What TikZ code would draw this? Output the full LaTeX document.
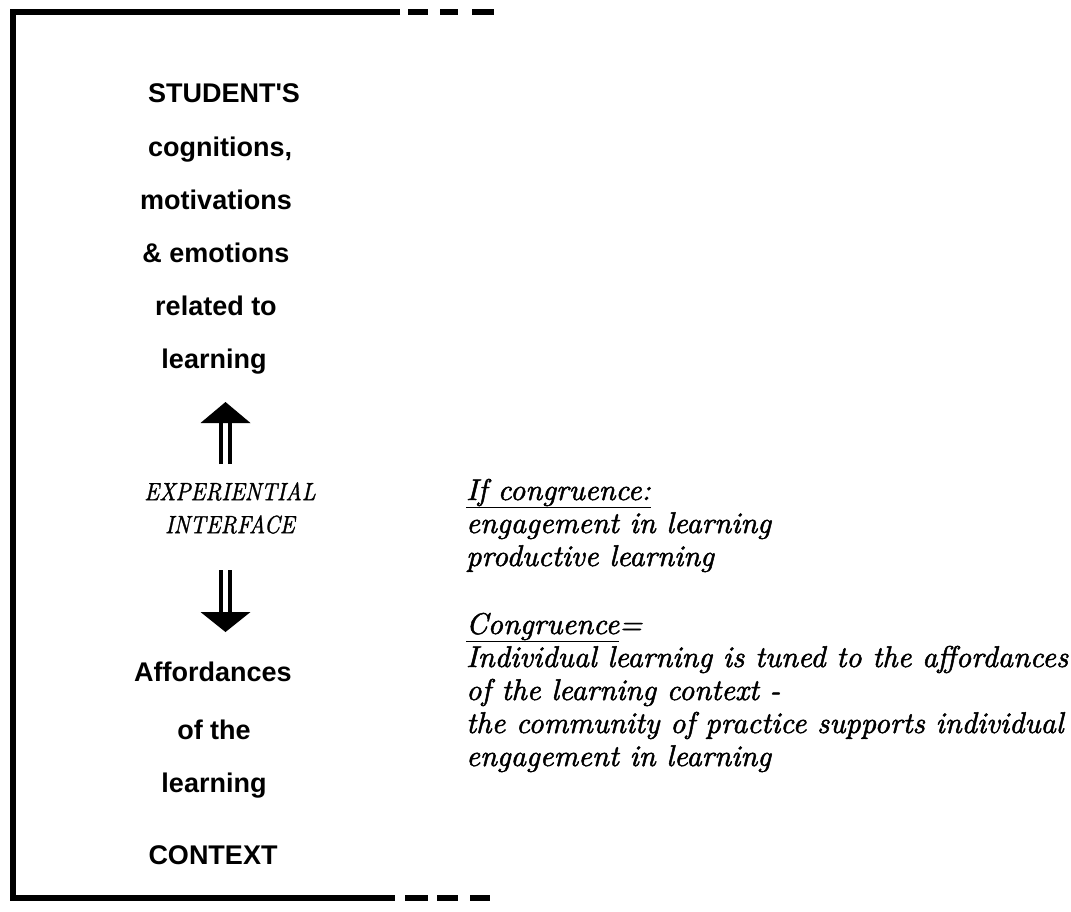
\documentclass[tikz,border=0pt]{standalone}
\usepackage{fontspec}
\newfontfamily\headfont{Liberation Sans}
\newfontfamily\notefont[FakeBold=1.6]{lmroman10-italic.otf}
\newfontfamily\ifacefont[FakeStretch=0.88,FakeBold=1.2]{lmroman10-italic.otf}
\begin{document}
\begin{tikzpicture}[x=1pt,y=-1pt,
  frameline/.style={line width=6pt,line cap=butt},
  lefttext/.style={font=\headfont\bfseries\fontsize{27}{27}\selectfont,inner sep=0pt,anchor=base},
  iftext/.style={font=\ifacefont\fontsize{25}{33}\selectfont,inner sep=0pt,align=center},
  notetext/.style={font=\notefont\fontsize{30}{33}\selectfont,inner sep=0pt,anchor=base west},
  shaft/.style={line width=3.5pt},
  headtip/.style={fill=black}]
\useasboundingbox (0,0) rectangle (1071,911);

% open frame on the left, fading into dashes at top and bottom
\draw[frameline] (400,12) -- (13,12) -- (13,898) -- (395,898);
\foreach \a/\b in {408/428,440/458,472/494}
  \draw[frameline] (\a,12) -- (\b,12);
\foreach \a/\b in {405/428,437/458,470/490}
  \draw[frameline] (\a,898) -- (\b,898);

% student side
\node[lefttext] (s1) at (224,102) {STUDENT'S};
\node[lefttext] (s2) at (220,156) {cognitions,};
\node[lefttext] (s3) at (216,209) {motivations};
\node[lefttext] (s4) at (216,262) {\& emotions};
\node[lefttext] (s5) at (216,315) {related to};
\node[lefttext] (s6) at (214,368) {learning};

% interface
\node[iftext] (ei) at (230,508) {EXPERIENTIAL\\INTERFACE};

% context side
\node[lefttext] (c1) at (213,681) {Affordances};
\node[lefttext] (c2) at (214,739) {of the};
\node[lefttext] (c3) at (214,792) {learning};
\node[lefttext] (c4) at (213,864) {CONTEXT};

% double-shafted arrows
\coordinate (upbase) at (225.5,423);
\coordinate (uptip) at (225.5,402);
\coordinate (upfoot) at (225.5,464);
\draw[shaft] ([xshift=-4.5pt]upfoot) -- ([xshift=-4.5pt]upbase);
\draw[shaft] ([xshift=4.5pt]upfoot) -- ([xshift=4.5pt]upbase);
\fill[headtip] (uptip) -- ([xshift=25pt]upbase) -- ([xshift=-25pt]upbase) -- cycle;

\coordinate (dntop) at (225.5,570);
\coordinate (dnbase) at (225.5,612);
\coordinate (dntip) at (225.5,632);
\draw[shaft] ([xshift=-4.5pt]dntop) -- ([xshift=-4.5pt]dnbase);
\draw[shaft] ([xshift=4.5pt]dntop) -- ([xshift=4.5pt]dnbase);
\fill[headtip] (dntip) -- ([xshift=25pt]dnbase) -- ([xshift=-25pt]dnbase) -- cycle;

% notes
\node[notetext] (n1) at (466,500) {\underline{If congruence:}};
\node[notetext] (n2) at (466,533) {engagement in learning};
\node[notetext] (n3) at (466,566) {productive learning};
\node[notetext] (n4) at (466,634) {\underline{Congruence}=};
\node[notetext] (n5) at (466,667) {Individual learning is tuned to the affordances};
\node[notetext] (n6) at (466,700) {of the learning context -};
\node[notetext] (n7) at (466,733) {the community of practice supports individual};
\node[notetext] (n8) at (466,766) {engagement in learning};
\end{tikzpicture}
\end{document}
